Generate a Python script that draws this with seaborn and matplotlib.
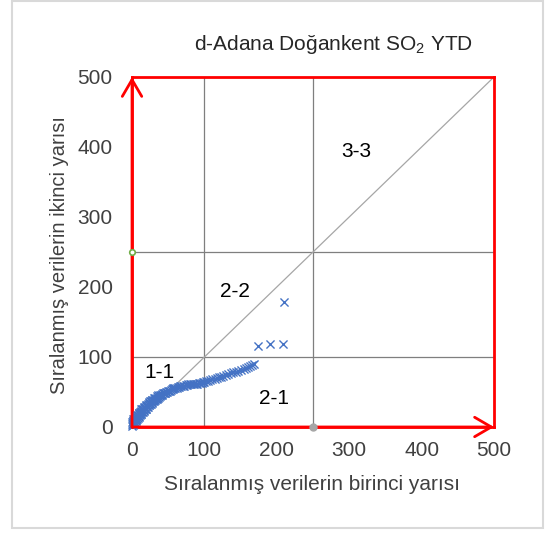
import matplotlib
matplotlib.use("Agg")
import matplotlib.pyplot as plt
from matplotlib.patches import Rectangle
import pandas as pd
import seaborn as sns

sns.set_theme(style="white")
plt.rcParams["font.family"] = ["Liberation Sans", "DejaVu Sans"]
plt.rcParams["mathtext.default"] = "regular"

# Sorted first half (x) vs sorted second half (y) of the SO2 series
first_half = [0, 0, 0, 1, 1, 1, 2, 2, 2, 3, 3, 3, 4, 4, 4, 5, 5, 5, 6, 6, 7, 7,
              7, 8, 8, 9, 9, 9, 10, 10, 11, 11, 12, 12, 13, 13, 13, 14, 14, 15,
              15, 16, 16, 17, 17, 18, 18, 19, 19, 20, 20, 21, 21, 22, 22, 23, 23,
              24, 24, 25, 25, 26, 26, 27, 27, 28, 28, 29, 30, 30, 31, 32, 32, 33,
              34, 34, 35, 36, 36, 37, 38, 39, 40, 41, 42, 43, 44, 45, 46, 47, 48,
              50, 51, 52, 54, 55, 56, 57, 58, 60, 62, 63, 65, 66, 68, 70, 72, 74,
              76, 78, 80, 82, 84, 86, 88, 90, 92, 94, 96, 98, 100, 102, 105, 108,
              111, 114, 117, 120, 123, 126, 130, 133, 137, 140, 144, 147, 150,
              154, 157, 160, 163, 166, 168, 174, 191, 208, 210]
second_half = [1, 4, 7, 3, 6, 9, 4, 8, 11, 5, 9, 12, 7, 11, 14, 8, 12, 15, 10,
               15, 11, 14, 17, 13, 17, 14, 18, 20, 16, 20, 17, 21, 18, 22, 19, 23,
               25, 21, 25, 22, 26, 23, 27, 24, 28, 25, 29, 26, 30, 26, 31, 28, 32,
               29, 33, 31, 34, 32, 36, 33, 37, 33, 37, 34, 38, 35, 39, 37, 37, 41,
               38, 39, 42, 40, 40, 44, 42, 42, 45, 43, 44, 45, 46, 46, 47, 48, 48,
               49, 49, 50, 50, 51, 52, 52, 53, 54, 54, 55, 55, 56, 56, 57, 57, 58,
               58, 59, 59, 60, 60, 61, 61, 61, 62, 62, 62, 62, 63, 63, 63, 64, 64,
               65, 66, 67, 68, 69, 70, 71, 72, 73, 74, 75, 77, 78, 79, 80, 81, 83,
               84, 85, 87, 89, 90, 115, 118, 118, 178]

df = pd.DataFrame({"birinci": first_half, "ikinci": second_half})

axis_ticks = [0, 100, 200, 300, 400, 500]
class_bounds = [100, 250]
region_labels = ["1-1", "2-2", "3-3", "2-1"]
region_pos = [(38, 78), (142, 193), (310, 393), (196, 41)]

fig = plt.figure(figsize=(5.51, 5.33), dpi=100)
ax = fig.add_axes([0.2396, 0.1989, 0.657, 0.6567])

# class boundaries and the 1:1 line
for b in class_bounds:
    ax.axvline(b, color="#7f7f7f", lw=0.9, zorder=1)
    ax.axhline(b, color="#7f7f7f", lw=0.9, zorder=1)
ax.plot([0, 500], [0, 500], color="#a6a6a6", lw=0.9, zorder=1)

sns.scatterplot(data=df, x="birinci", y="ikinci", marker="x", color="#4472C4",
                s=34, linewidth=1.0, ax=ax, zorder=3, clip_on=False)

ax.set_xlim(0, 500)
ax.set_ylim(0, 500)
ax.set_xticks(axis_ticks)
ax.set_yticks(axis_ticks)
ax.tick_params(axis="both", length=0, labelsize=15, labelcolor="#404040")
ax.tick_params(axis="y", pad=14)
ax.tick_params(axis="x", pad=10)

for side in ["left", "bottom", "top", "right"]:
    ax.spines[side].set_color("#ff0000")
    ax.spines[side].set_linewidth(2)
    ax.spines[side].set_visible(True)

# arrowheads on the two main axes
arrow_kw = dict(arrowstyle="->,head_length=1.2,head_width=0.7", color="#ff0000",
                lw=2, mutation_scale=10, shrinkA=0, shrinkB=0)
ax.annotate("", xy=(0, 500), xytext=(0, 0), xycoords="data",
            arrowprops=arrow_kw, annotation_clip=False)
ax.annotate("", xy=(500, 0), xytext=(0, 0), xycoords="data",
            arrowprops=arrow_kw, annotation_clip=False)

# boundary markers on the axes
ax.plot([0], [250], marker="o", ms=4, mfc="white", mec="#70ad47", mew=1.2,
        clip_on=False, zorder=5)
ax.plot([250], [0], marker="o", ms=5, color="#a6a6a6", clip_on=False, zorder=5)

for lab, (lx, ly) in zip(region_labels, region_pos):
    ax.text(lx, ly, lab, fontsize=15, color="black", ha="center", va="center")

ax.set_xlabel("Sıralanmış verilerin birinci yarısı", fontsize=15, color="#404040")
ax.set_ylabel("Sıralanmış verilerin ikinci yarısı", fontsize=14.5, color="#404040")
ax.xaxis.set_label_coords(0.497, -0.163)
ax.xaxis.label.set_va("center")
ax.yaxis.set_label_coords(-0.2, 0.491)
ax.yaxis.label.set_va("center")

fig.text(0.606, 0.9156, "d-Adana Doğankent SO$_2$ YTD", fontsize=15,
         color="#262626", ha="center", va="center")

fig.patches.append(Rectangle((0.0218, 0.0094), 0.9637, 0.9887, transform=fig.transFigure,
                             fill=False, edgecolor="#d9d9d9", lw=1.5))

fig.savefig("out.png", dpi=100)
